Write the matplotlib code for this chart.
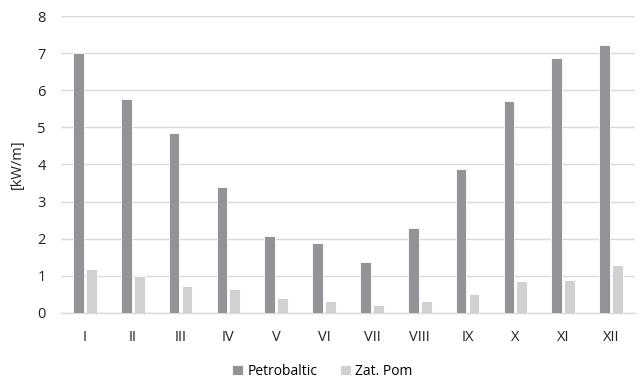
import numpy as np
import matplotlib
matplotlib.use('Agg')
import matplotlib.pyplot as plt

plt.rcParams['font.family'] = ['Open Sans', 'DejaVu Sans']

# monthly wave energy flux
months = ['I', 'II', 'III', 'IV', 'V', 'VI', 'VII', 'VIII', 'IX', 'X', 'XI', 'XII']
petrobaltic = [7.0, 5.76, 4.86, 3.39, 2.08, 1.89, 1.38, 2.29, 3.89, 5.70, 6.88, 7.22]
zat_pom = [1.19, 0.98, 0.73, 0.63, 0.41, 0.31, 0.21, 0.33, 0.51, 0.86, 0.89, 1.30]

fig = plt.figure(figsize=(6.42, 3.82), dpi=100)
ax = fig.add_axes([0.095, 0.181, 0.894, 0.777])

x = np.arange(len(months))
w = 0.225
ax.bar(x - 0.135, petrobaltic, w, color='#949397', edgecolor='white', linewidth=0.6,
       label='Petrobaltic', zorder=3)
ax.bar(x + 0.135, zat_pom, w, color='#d0d1d3', edgecolor='white', linewidth=0.6,
       label='Zat. Pom', zorder=3)

ax.set_xlim(-0.5, len(months) - 0.5)
ax.set_ylim(0, 8)
ax.set_yticks(range(0, 9))
ax.set_xticks(x)
ax.set_xticklabels(months)
ax.tick_params(axis='both', length=0, labelsize=10.5, colors='#222222')
ax.tick_params(axis='x', pad=12)
ax.tick_params(axis='y', pad=11)
ax.yaxis.grid(True, color='#d9d9d9', linewidth=1.0, zorder=0)
ax.set_axisbelow(True)
for s in ['top', 'right', 'left']:
    ax.spines[s].set_visible(False)
ax.spines['bottom'].set_color('#d9d9d9')
ax.spines['bottom'].set_linewidth(1.0)
ax.set_ylabel('[kW/m]', fontsize=10.5, color='#222222', labelpad=9)

ax.legend(loc='upper center', bbox_to_anchor=(0.455, -0.13), ncol=2, frameon=False,
          fontsize=10, handlelength=0.8, handleheight=0.8, handletextpad=0.3,
          columnspacing=1.6)

plt.savefig('out.png', dpi=100)
